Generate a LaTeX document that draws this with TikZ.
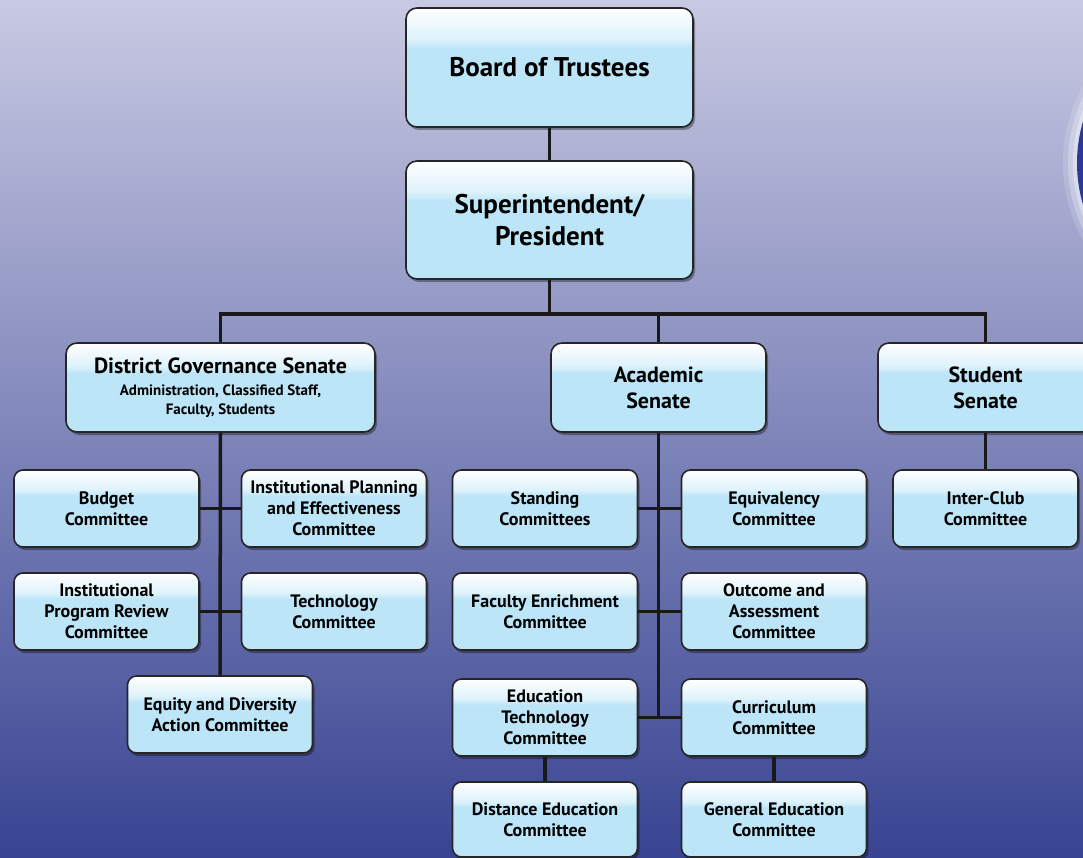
\documentclass[tikz,border=0pt]{standalone}
\usepackage{fontspec}
\setmainfont{PT Sans}
\usetikzlibrary{shadows}
\definecolor{boxblue}{RGB}{188,229,247}
\definecolor{bgtop}{RGB}{200,201,226}
\definecolor{bgmid}{RGB}{122,127,178}
\definecolor{bgbot}{RGB}{56,68,146}
\definecolor{logoblue}{RGB}{44,58,150}
\pgfdeclareverticalshading{gloss}{100bp}{color(0bp)=(boxblue); color(25bp)=(boxblue); color(58bp)=(boxblue); color(62bp)=(boxblue!50!white); color(75bp)=(white); color(100bp)=(white)}
\newcommand{\subfs}{\fontsize{15}{18}\selectfont}
\tikzset{
  box/.style={draw=black!85, line width=1.6pt, rounded corners=11pt, shading=gloss, align=center, inner sep=0pt,
    drop shadow={shadow xshift=2pt, shadow yshift=-3pt, opacity=0.35, fill=black}},
  bigbox/.style={box, minimum width=287pt, minimum height=118pt, font=\bfseries\fontsize{27}{32}\selectfont},
  senbox/.style={box, minimum height=89pt, font=\bfseries\fontsize{22}{26}\selectfont},
  combox/.style={box, minimum width=185pt, minimum height=77pt, rounded corners=9pt, font=\bfseries\fontsize{18}{21}\selectfont},
  link/.style={line width=3.5pt, draw=black!90}
}
\begin{document}
\begin{tikzpicture}[x=1pt, y=-1pt]
\useasboundingbox (0,0) rectangle (1083,858);
\clip (0,0) rectangle (1083,858);
\shade[top color=bgtop, middle color=bgmid, bottom color=bgbot] (0,0) rectangle (1083,858);
% partial logo at right edge
\foreach \r/\o in {160/0.15, 155/0.25, 150/0.35} {\fill[white, opacity=\o] (1223,163) circle (\r pt);}
\fill[logoblue] (1223,163) circle (146pt);

% top
\node[bigbox, minimum height=119pt] (bot) at (549.5,67.5) {Board of Trustees};
\node[bigbox] (sup) at (549.5,220) {Superintendent/\\President};

% senates
\node[senbox, minimum width=309pt] (dgs) at (220.5,387.5) {District Governance Senate\\[-4pt]\subfs Administration, Classified Staff,\\[-7pt]\subfs Faculty, Students};
\node[senbox, minimum width=215pt] (aca) at (658.5,387.5) {Academic\\Senate};
\node[senbox, minimum width=215pt] (stu) at (985.5,387.5) {Student\\Senate};

% district committees
\node[combox] (bud) at (106.5,508.5) {Budget\\Committee};
\node[combox] (ipe) at (334,508.5) {Institutional Planning\\and Effectiveness\\Committee};
\node[combox] (ipr) at (106.5,611.5) {Institutional\\Program Review\\Committee};
\node[combox] (tec) at (334,611.5) {Technology\\Committee};
\node[combox] (eqd) at (220,714.5) {Equity and Diversity\\Action Committee};

% academic committees
\node[combox] (std) at (545,508.5) {Standing\\Committees};
\node[combox] (eqv) at (774,508.5) {Equivalency\\Committee};
\node[combox] (fac) at (545,611.5) {Faculty Enrichment\\Committee};
\node[combox] (out) at (774,611.5) {Outcome and\\Assessment\\Committee};
\node[combox] (edt) at (545,717.5) {Education\\Technology\\Committee};
\node[combox] (cur) at (774,717.5) {Curriculum\\Committee};
\node[combox, minimum height=75pt] (dis) at (545,819.5) {Distance Education\\Committee};
\node[combox, minimum height=75pt] (gen) at (774,819.5) {General Education\\Committee};

% student committee
\node[combox] (int) at (985.5,508.5) {Inter-Club\\Committee};

% connectors
\coordinate (bar) at (549.5,314);
\draw[link] (bot.south) -- (sup.north);
\draw[link] (sup.south) -- (bar);
\draw[link] (dgs.north) -- (dgs.north |- bar) -- (stu.north |- bar) -- (stu.north);
\draw[link] (aca.north) -- (aca.north |- bar);

\draw[link] (dgs.south) -- (eqd.north);
\draw[link] (bud.east) -- (ipe.west);
\draw[link] (ipr.east) -- (tec.west);

\draw[link] (aca.south) -- (aca.south |- edt.east);
\draw[link] (std.east) -- (eqv.west);
\draw[link] (fac.east) -- (out.west);
\draw[link] (edt.east) -- (cur.west);
\draw[link] (edt.south) -- (dis.north);
\draw[link] (cur.south) -- (gen.north);

\draw[link] (stu.south) -- (int.north);
\end{tikzpicture}
\end{document}
